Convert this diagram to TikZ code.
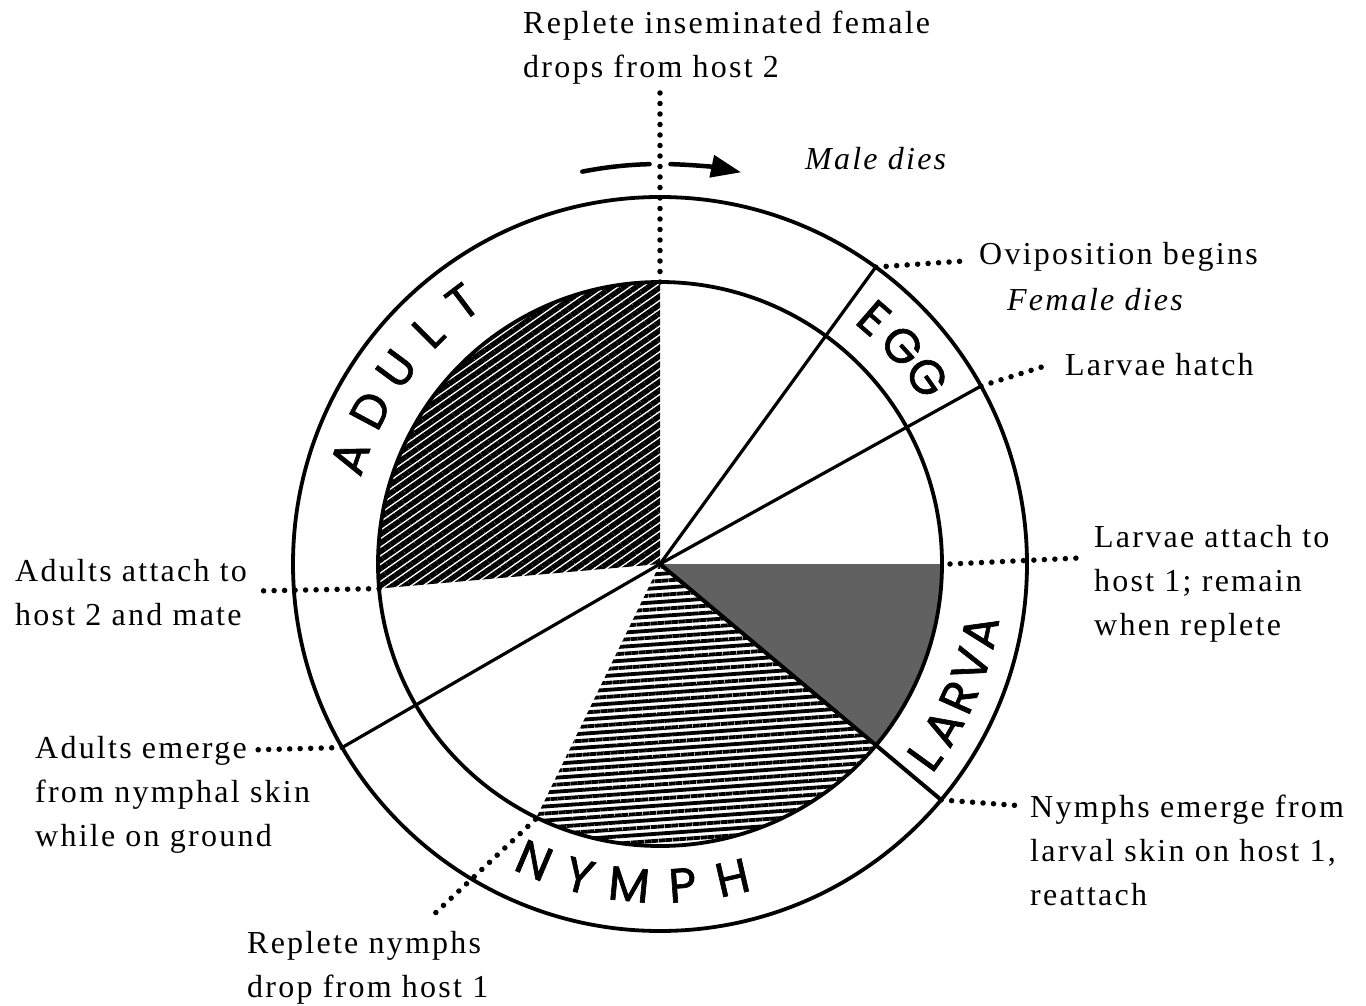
\documentclass[tikz,border=0pt]{standalone}
\usepackage{fontspec}
\setmainfont{Liberation Serif}[LetterSpace=7]
\newfontfamily\ringfont{Poppins}[FakeBold=1.3]
\usetikzlibrary{patterns.meta,arrows.meta}
\begin{document}
\begin{tikzpicture}[x=1pt,y=1pt,
  ring/.style={line width=3.8pt},
  radial/.style={line width=3.2pt},
  leader/.style={line width=5.5pt, dash pattern=on 0pt off 10.5pt, line cap=round},
  lbl/.style={anchor=base west, align=left, inner sep=0pt, font={\fontsize{32}{44}\selectfont}},
  ilbl/.style={lbl, font={\fontsize{32}{44}\selectfont\itshape}},
  stage/.style={inner sep=0pt, font={\ringfont\fontsize{48}{48}\selectfont}},
  arrowline/.style={line width=4.5pt, line cap=round},
]
\useasboundingbox (0,0) rectangle (1366,-1006);
\fill[white] (0,0) rectangle (1366,-1006);

\begin{scope}[shift={(660,-564)}]
  % sectors
  \fill[pattern={Lines[angle=35,distance=7pt,line width=5.4pt]}]
    (0,0) -- (90:282) arc[start angle=90,end angle=185,radius=282] -- cycle;
  \fill[black!62]
    (0,0) -- (0:282) arc[start angle=0,end angle=-40,radius=282] -- cycle;
  \fill[pattern={Lines[angle=4,distance=7pt,line width=3.8pt]}]
    (0,0) -- (-40:282) arc[start angle=-40,end angle=-116,radius=282] -- cycle;
  % circles
  \draw[ring] (0,0) circle[radius=282];
  \draw[ring] (0,0) circle[radius=367];
  % radial lines
  \draw[radial] (0,0) -- (54:367);
  \draw[radial] (0,0) -- (29:367);
  \draw[radial, line width=4pt] (0,0) -- (-40:367);
  \draw[radial] (0,0) -- (210:367);
  % named points
  \coordinate (pTop) at (90:282);
  \coordinate (pOvi) at (54:367);
  \coordinate (pHatch) at (29:367);
  \coordinate (pLAttach) at (0:290);
  \coordinate (pNEmerge) at (-40:367);
  \coordinate (pAAttach) at (185:282);
  \coordinate (pAEmerge) at (210:367);
  \coordinate (pRNymph) at (-116:284);
  % arrow
  \draw[arrowline] (101.2:400) arc[start angle=101.2,end angle=91.5,radius=400];
  \draw[arrowline,-{Triangle[length=30pt,width=22pt]}] (88.5:400) arc[start angle=88.5,end angle=78.3,radius=400];
  % stage labels
  \foreach \ch/\a in {A/161,D/152,U/143.5,L/135,T/127}
    \node[stage, rotate=\a-90] (adult\a) at (\a:328) {\ch};
  \foreach \ch/\a in {E/49,G/42,G/35}
    \node[stage, rotate=\a-90] (egg\a) at (\a:326) {\ch};
  \foreach \ch/\a in {L/-36,A/-30,R/-24,V/-18,A/-12}
    \node[stage, rotate=\a+90] (larva\a) at (\a:327) {\ch};
  \foreach \ch/\a in {N/-113,Y/-104.5,M/-95.5,P/-86,H/-77}
    \node[stage, rotate=\a+90] (nymph\a) at (\a:322) {\ch};
\end{scope}

% leader free ends
\coordinate (eTop) at (660,-93);
\coordinate (eOvi) at (964,-261);
\coordinate (eHatch) at (1045,-366);
\coordinate (eLAttach) at (1079,-558);
\coordinate (eNEmerge) at (1024,-806);
\coordinate (eAAttach) at (255,-591);
\coordinate (eAEmerge) at (249,-750);
\coordinate (eRNymph) at (430,-918);

\draw[leader] (pTop) -- (eTop);
\draw[leader] (pOvi) -- (eOvi);
\draw[leader] (pHatch) -- (eHatch);
\draw[leader] (pLAttach) -- (eLAttach);
\draw[leader] (pNEmerge) -- (eNEmerge);
\draw[leader] (pAAttach) -- (eAAttach);
\draw[leader] (pAEmerge) -- (eAEmerge);
\draw[leader] (pRNymph) -- (eRNymph);

% texts (base anchor = baseline of last line)
\node[lbl] (tFemale2) at (523,-78) {Replete inseminated female\\drops from host 2};
\node[ilbl] (tMale) at (805,-170) {Male dies};
\node[lbl] (tOvi) at (979,-264) {Oviposition begins};
\node[ilbl] (tFDies) at (1007,-310) {Female dies};
\node[lbl] (tHatch) at (1065,-375) {Larvae hatch};
\node[lbl] (tLAttach) at (1094,-635) {Larvae attach to\\host 1; remain\\when replete};
\node[lbl] (tNEmerge) at (1030,-905) {Nymphs emerge from\\larval skin on host 1,\\reattach};
\node[lbl] (tAAttach) at (15,-625) {Adults attach to\\host 2 and mate};
\node[lbl] (tAEmerge) at (35,-846) {Adults emerge\\from nymphal skin\\while on ground};
\node[lbl] (tRNymph) at (247,-997) {Replete nymphs\\drop from host 1};
\end{tikzpicture}
\end{document}
